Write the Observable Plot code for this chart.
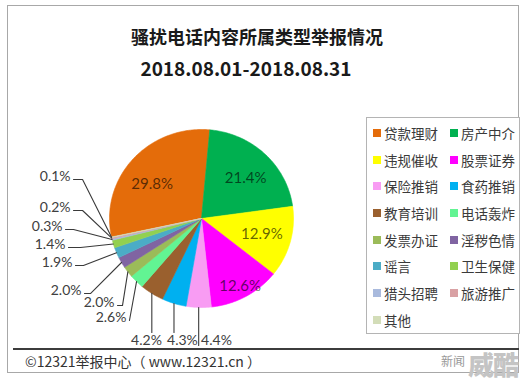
<!DOCTYPE html>
<html><head><meta charset="utf-8">
<script src="https://cdn.jsdelivr.net/npm/d3@7"></script>
<script src="https://cdn.jsdelivr.net/npm/@observablehq/plot@0.6"></script>
<style>
html,body{margin:0;padding:0;background:#fff;}
body{width:530px;height:383px;position:relative;overflow:hidden;font-family:"Noto Sans CJK SC","Noto Sans",sans-serif;color:#333;}
#frame{position:absolute;left:7px;top:5px;width:512px;height:368px;border:1px solid #a8a8a8;box-sizing:border-box;}
#title{position:absolute;left:0;top:24px;width:514px;text-align:center;font-weight:bold;font-size:18px;line-height:24px;color:#1a1a1a;}
#subtitle{position:absolute;left:0;top:56px;width:492px;text-align:center;font-weight:bold;font-size:19px;line-height:24px;color:#1a1a1a;}
#chart{position:absolute;left:0;top:0;}
#legend{position:absolute;left:366px;top:117px;width:154px;height:217px;border:1px solid #b4b4b4;box-sizing:border-box;background:#fff;}
.item{position:absolute;height:26.7px;display:flex;align-items:center;font-size:13.5px;color:#3a3a3a;white-space:nowrap;}
.sw{width:8px;height:8px;margin-right:3px;flex:none;}
#footline{position:absolute;left:13px;top:348px;width:506px;height:2px;background:#3c3c3c;}
#footer{position:absolute;left:25px;top:352px;font-size:14px;line-height:18px;color:#333;}
#wm1{position:absolute;left:441px;top:353px;font-size:12px;line-height:16px;color:#999;}
#wm2{position:absolute;left:468px;top:348px;font-size:26px;line-height:32px;font-weight:900;color:#c4c4c4;letter-spacing:-1px;}
</style></head><body>
<div id="frame"></div>
<div id="title">骚扰电话内容所属类型举报情况</div>
<div id="subtitle">2018.08.01-2018.08.31</div>
<div id="legend"></div>
<div id="chart"></div>
<div id="footline"></div>
<div id="footer">©12321举报中心（ www.12321.cn ）</div>
<div id="wm1">新闻</div>
<div id="wm2">威酷</div>
<script>
// ---- data ----
const categories = ["贷款理财","房产中介","违规催收","股票证券","保险推销","食药推销","教育培训","电话轰炸","发票办证","淫秽色情","谣言","卫生保健","猎头招聘","旅游推广","其他"];
const shares = [29.8, 21.4, 12.9, 12.6, 4.4, 4.3, 4.2, 2.6, 2.0, 2.0, 1.9, 1.4, 0.3, 0.2, 0.1];
const colors = ["#E46C0A","#00B050","#FFFF00","#FF00FF","#F89CF3","#00B0F0","#9A602E","#62F493","#9BBB59","#8064A2","#4BACC6","#92D050","#A9BADD","#D9A1A4","#D3DDB8"];
const firstSliceAngle = 258; // degrees, clockwise from 12 o'clock

// label layout (pie-radius units): inside labels for big slices, leader-line labels for the rest
const insideIdx = [0,1,2,3];
const insideRadius = [0.66,0.66,0.68,0.87];
const insideAngleShift = [-6,3,0,0];
const leftIdx = [14,13,12,11,10,9,8,7];
const leftAttachU = [-1.391,-1.391,-1.478,-1.446,-1.370,-1.272,-0.913,-0.783];
const leftElbowU  = [-1.293,-1.293,-1.391,-1.315,-1.283,-1.207,-0.859,-0.783];
const leftLineV   = [0.438,0.090,-0.124,-0.326,-0.528,-0.843,-0.978,-1.146];
const bottomIdx = [6,5,4];
const bottomTextU = [-0.598,-0.207,0.163];
const bottomTextV = -1.371;
const bottomLineEndV = [-1.281,-1.281,-1.427];

// ---- geometry ----
const total = d3.sum(shares);
const rad = d => d * Math.PI / 180;
let cum = 0;
const arcs = shares.map((v, i) => {
  const a0 = firstSliceAngle + cum / total * 360;
  cum += v;
  const a1 = firstSliceAngle + cum / total * 360;
  return {name: categories[i], value: v, a0, a1, mid: (a0 + a1) / 2};
});
const slicePts = [];
arcs.forEach(a => {
  slicePts.push({name: a.name, x: 0, y: 0});
  const n = Math.max(2, Math.ceil((a.a1 - a.a0) / 0.75));
  for (let k = 0; k <= n; k++) {
    const t = rad(a.a0 + (a.a1 - a.a0) * k / n);
    slicePts.push({name: a.name, x: Math.sin(t), y: Math.cos(t)});
  }
  slicePts.push({name: a.name, x: 0, y: 0});
});
const fmt = v => v.toFixed(1) + "%";
const edge = i => ({x: Math.sin(rad(arcs[i].mid)), y: Math.cos(rad(arcs[i].mid))});

const insideLabels = insideIdx.map((i, k) => ({
  x: Math.sin(rad(arcs[i].mid + insideAngleShift[k])) * insideRadius[k],
  y: Math.cos(rad(arcs[i].mid + insideAngleShift[k])) * insideRadius[k],
  text: fmt(shares[i])
}));
const leaders = [];
const leftLabels = leftIdx.map((i, k) => {
  const e = edge(i);
  leaders.push({id: "L" + k, x: e.x, y: e.y});
  leaders.push({id: "L" + k, x: leftElbowU[k], y: leftLineV[k]});
  leaders.push({id: "L" + k, x: leftAttachU[k], y: leftLineV[k]});
  return {x: leftAttachU[k], y: leftLineV[k], text: fmt(shares[i])};
});
const bottomLabels = bottomIdx.map((i, k) => {
  const e = edge(i);
  leaders.push({id: "B" + k, x: e.x, y: e.y});
  leaders.push({id: "B" + k, x: e.x, y: bottomLineEndV[k]});
  return {x: bottomTextU[k], y: bottomTextV, text: fmt(shares[i])};
});

const labelFont = "Lato, 'Open Sans', sans-serif";
const chart = Plot.plot({
  width: 530,
  height: 383,
  style: {background: "transparent", overflow: "visible"},
  x: {domain: [-1, 1], range: [109, 293], axis: null},
  y: {domain: [-1, 1], range: [307, 129], axis: null},
  color: {domain: categories, range: colors},
  marks: [
    Plot.line(slicePts, {x: "x", y: "y", z: "name", fill: "name", stroke: "name", strokeWidth: 0.6, curve: "linear"}),
    Plot.line(leaders, {x: "x", y: "y", z: "id", stroke: "#3a3a3a", strokeWidth: 1.1}),
    Plot.text(insideLabels, {x: "x", y: "y", text: "text", fontSize: 15, fill: "#000", fillOpacity: 0.62, fontFamily: labelFont}),
    Plot.text(leftLabels, {x: "x", y: "y", text: "text", textAnchor: "end", dx: -3, dy: -3, fontSize: 14, fill: "#404040", fontFamily: labelFont}),
    Plot.text(bottomLabels, {x: "x", y: "y", text: "text", fontSize: 14, fill: "#404040", fontFamily: labelFont})
  ]
});
document.getElementById("chart").appendChild(chart);

// legend (row-major, two columns) from the same categories/colors
const legend = document.getElementById("legend");
categories.forEach((c, i) => {
  const row = Math.floor(i / 2), col = i % 2;
  const el = document.createElement("div");
  el.className = "item";
  el.style.left = (6 + col * 77) + "px";
  el.style.top = (1.5 + row * 26.7) + "px";
  el.innerHTML = `<span class="sw" style="background:${colors[i]}"></span><span>${c}</span>`;
  legend.appendChild(el);
});
</script>
</body></html>
